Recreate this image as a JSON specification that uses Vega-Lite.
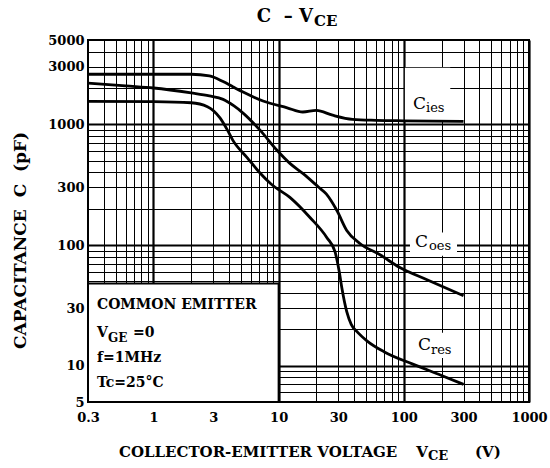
{
  "$schema": "https://vega.github.io/schema/vega-lite/v6.json",
  "width": 441,
  "height": 362,
  "autosize": {"type": "none"},
  "padding": {"left": 88, "top": 40, "right": 21, "bottom": 66},
  "background": "white",
  "config": {"view": {"stroke": "black", "strokeWidth": 2}, "font": "DejaVu Serif"},
  "encoding": {
    "x": {
      "field": "x", "type": "quantitative",
      "scale": {"type": "log", "domain": [0.3, 1000], "nice": false},
      "axis": {
        "title": null,
        "values": [0.3,0.4,0.5,0.6,0.7,0.8,0.9,1,2,3,4,5,6,7,8,9,10,20,30,40,50,60,70,80,90,100,200,300,400,500,600,700,800,900,1000],
        "format": "~g",
        "labelExpr": "indexof([0.3,1,3,10,30,100,300,1000], datum.value) >= 0 ? datum.label : ''",
        "labelFlush": false, "labelOverlap": false, "ticks": false, "domain": false,
        "grid": true, "gridColor": "black", "gridOpacity": 1,
        "gridWidth": {"condition": {"test": "abs(log(datum.value)/LN10 - round(log(datum.value)/LN10)) < 0.001", "value": 2.2}, "value": 1},
        "labelFont": "DejaVu Serif", "labelFontWeight": "bold", "labelFontSize": 13, "labelColor": "black", "labelPadding": 9
      }
    },
    "y": {
      "field": "y", "type": "quantitative",
      "scale": {"type": "log", "domain": [5, 5000], "nice": false},
      "axis": {
        "title": "CAPACITANCE\u00a0\u00a0C\u00a0\u00a0(pF)",
        "titleFont": "DejaVu Serif", "titleFontWeight": "bold", "titleFontSize": 17, "titleColor": "black",
        "titleX": -68, "titleY": 200, "titleAlign": "center", "titleBaseline": "middle", "titleAngle": -90,
        "values": [5,6,7,8,9,10,20,30,40,50,60,70,80,90,100,200,300,400,500,600,700,800,900,1000,2000,3000,4000,5000],
        "format": "~g",
        "labelExpr": "indexof([5,10,30,100,300,1000,3000,5000], datum.value) >= 0 ? datum.label : ''",
        "labelFlush": false, "labelOverlap": false, "ticks": false, "domain": false,
        "grid": true, "gridColor": "black", "gridOpacity": 1,
        "gridWidth": {"condition": {"test": "abs(log(datum.value)/LN10 - round(log(datum.value)/LN10)) < 0.001", "value": 2.2}, "value": 1},
        "labelFont": "DejaVu Serif", "labelFontWeight": "bold", "labelFontSize": 13, "labelColor": "black", "labelPadding": 4
      }
    }
  },
  "layer": [
    {
      "data": {"values": [
        {"x": 102, "x2": 235, "y": 1085, "y2": 2950},
        {"x": 112, "x2": 266, "y": 81.6, "y2": 127},
        {"x": 118, "x2": 266, "y": 11.6, "y2": 18.7}
      ]},
      "mark": {"type": "rect", "fill": "white", "strokeWidth": 0},
      "encoding": {"x2": {"field": "x2"}, "y2": {"field": "y2"}}
    },
    {
      "data": {"values": [{"x": 0.3, "x2": 10, "y": 5, "y2": 48}]},
      "mark": {"type": "rect", "fill": "white", "stroke": "black", "strokeWidth": 2},
      "encoding": {"x2": {"field": "x2"}, "y2": {"field": "y2"}}
    },
    {
      "data": {"values": [
        {"series": "Cies", "x": 0.3, "y": 2600}, {"series": "Cies", "x": 0.6, "y": 2600}, {"series": "Cies", "x": 1, "y": 2600},
        {"series": "Cies", "x": 2, "y": 2600}, {"series": "Cies", "x": 2.8, "y": 2520}, {"series": "Cies", "x": 3.6, "y": 2260},
        {"series": "Cies", "x": 4.3, "y": 2050}, {"series": "Cies", "x": 5.2, "y": 1850}, {"series": "Cies", "x": 7.5, "y": 1560},
        {"series": "Cies", "x": 11.7, "y": 1370}, {"series": "Cies", "x": 15.6, "y": 1265}, {"series": "Cies", "x": 20, "y": 1305},
        {"series": "Cies", "x": 27, "y": 1190}, {"series": "Cies", "x": 39, "y": 1100}, {"series": "Cies", "x": 60, "y": 1080},
        {"series": "Cies", "x": 100, "y": 1070}, {"series": "Cies", "x": 300, "y": 1060},
        {"series": "Coes", "x": 0.3, "y": 2200}, {"series": "Coes", "x": 0.6, "y": 2080}, {"series": "Coes", "x": 1, "y": 2000},
        {"series": "Coes", "x": 2, "y": 1820}, {"series": "Coes", "x": 2.8, "y": 1720}, {"series": "Coes", "x": 3.6, "y": 1610},
        {"series": "Coes", "x": 4.4, "y": 1420}, {"series": "Coes", "x": 5.2, "y": 1240}, {"series": "Coes", "x": 7.1, "y": 895},
        {"series": "Coes", "x": 9.7, "y": 610}, {"series": "Coes", "x": 12.3, "y": 475}, {"series": "Coes", "x": 15.6, "y": 392},
        {"series": "Coes", "x": 20.6, "y": 305}, {"series": "Coes", "x": 24, "y": 265}, {"series": "Coes", "x": 29.2, "y": 193},
        {"series": "Coes", "x": 35, "y": 132}, {"series": "Coes", "x": 44.6, "y": 103}, {"series": "Coes", "x": 64.5, "y": 83},
        {"series": "Coes", "x": 93, "y": 65}, {"series": "Coes", "x": 150, "y": 52}, {"series": "Coes", "x": 300, "y": 38},
        {"series": "Cres", "x": 0.3, "y": 1550}, {"series": "Cres", "x": 1, "y": 1540}, {"series": "Cres", "x": 2, "y": 1510},
        {"series": "Cres", "x": 2.7, "y": 1400}, {"series": "Cres", "x": 3.4, "y": 1130}, {"series": "Cres", "x": 3.9, "y": 895},
        {"series": "Cres", "x": 4.3, "y": 740}, {"series": "Cres", "x": 5.6, "y": 530}, {"series": "Cres", "x": 7.1, "y": 395},
        {"series": "Cres", "x": 8.7, "y": 320}, {"series": "Cres", "x": 12.3, "y": 248}, {"series": "Cres", "x": 17.8, "y": 169},
        {"series": "Cres", "x": 24.3, "y": 115}, {"series": "Cres", "x": 28.2, "y": 88}, {"series": "Cres", "x": 30.5, "y": 60},
        {"series": "Cres", "x": 32, "y": 44}, {"series": "Cres", "x": 35, "y": 28}, {"series": "Cres", "x": 38, "y": 22},
        {"series": "Cres", "x": 43, "y": 18.8}, {"series": "Cres", "x": 51, "y": 16}, {"series": "Cres", "x": 70, "y": 13},
        {"series": "Cres", "x": 118, "y": 10.3}, {"series": "Cres", "x": 200, "y": 8.3}, {"series": "Cres", "x": 300, "y": 7.0}
      ]},
      "mark": {"type": "line", "color": "black", "strokeWidth": 2.8, "interpolate": "monotone"},
      "encoding": {"detail": {"field": "series"}}
    },
    {
      "data": {"values": [{"x": 18.8, "y": 7755, "text": "C\u00a0\u00a0–\u00a0V"}]},
      "mark": {"type": "text", "font": "DejaVu Serif", "fontWeight": "bold", "fontSize": 18, "align": "right", "baseline": "middle", "color": "black"},
      "encoding": {"text": {"field": "text"}}
    },
    {
      "data": {"values": [{"x": 19.15, "y": 7187, "text": "CE"}]},
      "mark": {"type": "text", "font": "DejaVu Serif", "fontWeight": "bold", "fontSize": 15, "align": "left", "baseline": "middle", "color": "black"},
      "encoding": {"text": {"field": "text"}}
    },
    {
      "data": {"values": [
        {"x": 0.53, "y": 1.926, "text": "COLLECTOR-EMITTER VOLTAGE"},
        {"x": 370, "y": 1.926, "text": "(V)"}
      ]},
      "mark": {"type": "text", "font": "DejaVu Serif", "fontWeight": "bold", "fontSize": 15, "align": "left", "baseline": "middle", "color": "black"},
      "encoding": {"text": {"field": "text"}}
    },
    {
      "data": {"values": [{"x": 155.9, "y": 1.926, "text": "V"}]},
      "mark": {"type": "text", "font": "DejaVu Serif", "fontWeight": "bold", "fontSize": 15, "align": "right", "baseline": "middle", "color": "black"},
      "encoding": {"text": {"field": "text"}}
    },
    {
      "data": {"values": [{"x": 155.9, "y": 1.785, "text": "CE"}]},
      "mark": {"type": "text", "font": "DejaVu Serif", "fontWeight": "bold", "fontSize": 13, "align": "left", "baseline": "middle", "color": "black"},
      "encoding": {"text": {"field": "text"}}
    },
    {
      "data": {"values": [
        {"x": 0.354, "y": 31.8, "text": "COMMON EMITTER"},
        {"x": 0.354, "y": 18.7, "text": "V"},
        {"x": 0.686, "y": 18.7, "text": "=0"},
        {"x": 0.354, "y": 11.6, "text": "f=1MHz"},
        {"x": 0.354, "y": 7.19, "text": "Tc=25°C"}
      ]},
      "mark": {"type": "text", "font": "DejaVu Serif", "fontWeight": "bold", "fontSize": 14, "align": "left", "baseline": "middle", "color": "black"},
      "encoding": {"text": {"field": "text"}}
    },
    {
      "data": {"values": [{"x": 0.433, "y": 16.96, "text": "GE"}]},
      "mark": {"type": "text", "font": "DejaVu Serif", "fontWeight": "bold", "fontSize": 12, "align": "left", "baseline": "middle", "color": "black"},
      "encoding": {"text": {"field": "text"}}
    },
    {
      "data": {"values": [
        {"x": 118.3, "y": 1475, "text": "C"},
        {"x": 122.7, "y": 105.9, "text": "C"},
        {"x": 129.7, "y": 14.8, "text": "C"}
      ]},
      "mark": {"type": "text", "font": "DejaVu Serif", "fontSize": 17, "align": "left", "baseline": "middle", "color": "black"},
      "encoding": {"text": {"field": "text"}}
    },
    {
      "data": {"values": [
        {"x": 150.3, "y": 1366, "text": "ies"},
        {"x": 158.7, "y": 98.2, "text": "oes"},
        {"x": 164.7, "y": 13.5, "text": "res"}
      ]},
      "mark": {"type": "text", "font": "DejaVu Serif", "fontSize": 13, "align": "left", "baseline": "middle", "color": "black"},
      "encoding": {"text": {"field": "text"}}
    }
  ]
}
